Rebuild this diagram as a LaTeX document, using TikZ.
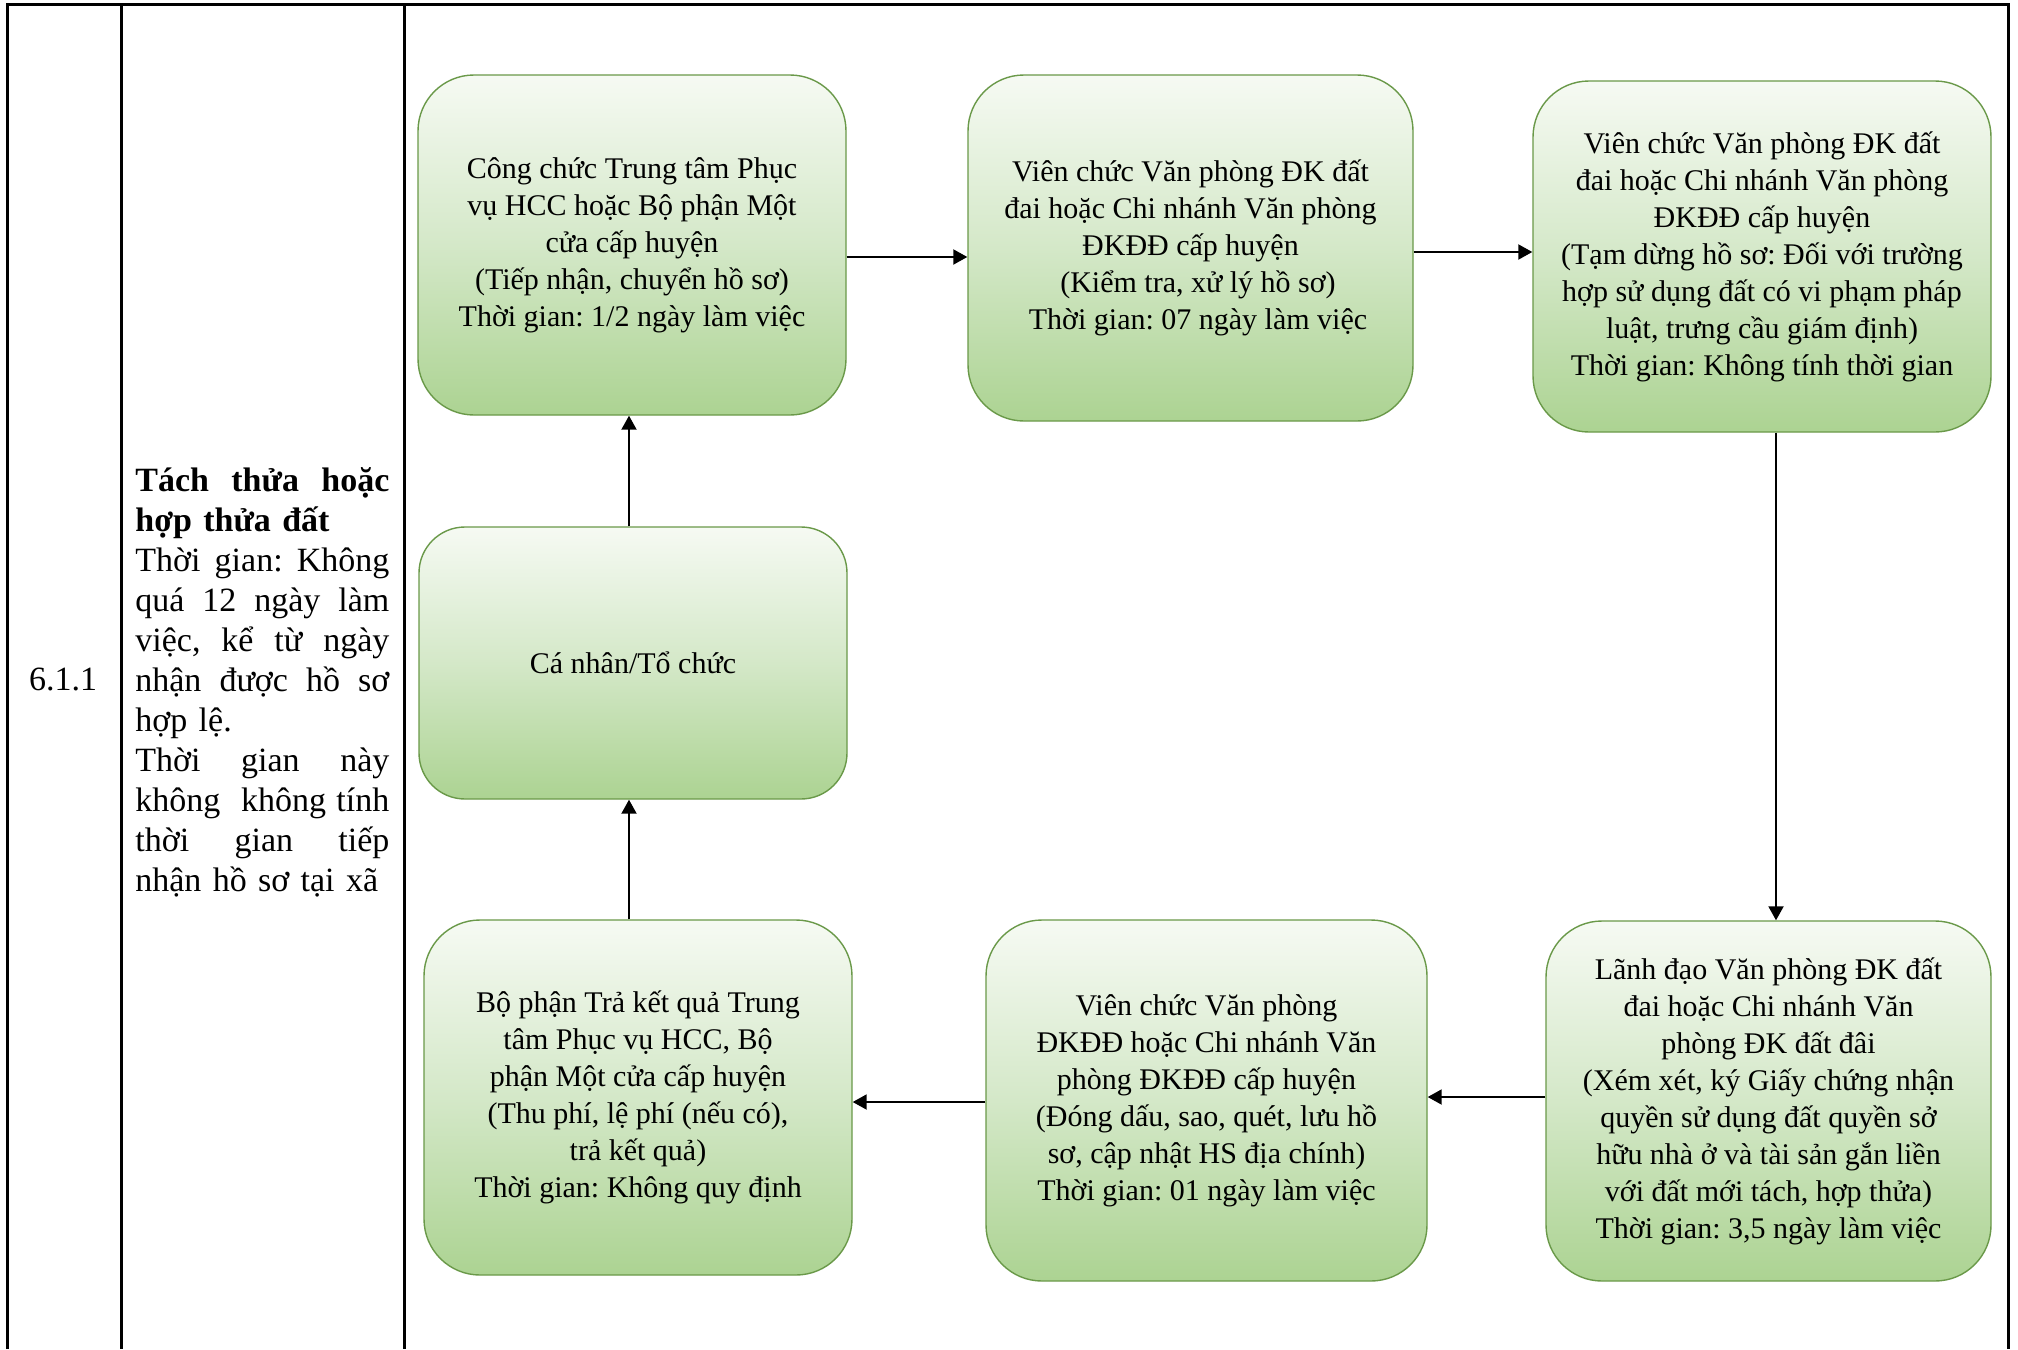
\documentclass[tikz,border=0pt]{standalone}
\usepackage{fontspec}
\setmainfont{Liberation Serif}
\usetikzlibrary{arrows.meta}
\definecolor{gtop}{RGB}{246,250,243}
\definecolor{gmid}{RGB}{212,232,200}
\definecolor{gbot}{RGB}{172,211,146}
\definecolor{gline}{RGB}{106,153,73}
\newcommand{\jl}[1]{\makebox[127pt][s]{\spaceskip=0.25em plus 1fil\relax\xspaceskip=0.25em plus 1fil\relax #1}}
\newcommand{\rl}[1]{\makebox[127pt][l]{#1}}
\frenchspacing
\begin{document}
\begin{tikzpicture}[x=0.5pt,y=-0.5pt,
  flowbox/.style={draw=gline, line width=0.7pt, rounded corners=28pt,
    top color=gtop, bottom color=gbot, middle color=gmid,
    align=center, font=\fontsize{15}{18.5}\selectfont\frenchspacing, inner sep=0pt},
  arr/.style={draw=black, line width=1pt, -{Triangle[length=7pt,width=7.5pt]}},
  tab/.style={line width=1.5pt, line join=miter}]
\useasboundingbox[fill=white] (0,0) rectangle (2018,1349);
% table
\draw[tab] (7,1349) -- (7,4) -- (2008,4) -- (2008,1349);
\draw[tab] (121,4) -- (121,1349);
\draw[tab] (404,4) -- (404,1349);
% left columns
\node[font=\fontsize{17}{20}\selectfont, anchor=base, inner sep=0pt] (num) at (63,690) {6.1.1};
\node[anchor=north west, inner sep=0pt, text width=127pt, align=left,
  font=\fontsize{17}{20}\selectfont] (desc) at (135,467)
 {\textbf{\jl{Tách thửa hoặc}}\\
  \textbf{\rl{hợp thửa đất}}\\
  \jl{Thời gian: Không}\\
  \jl{quá 12 ngày làm}\\
  \jl{việc, kể từ ngày}\\
  \jl{nhận được hồ sơ}\\
  \rl{hợp lệ.}\\
  \jl{Thời gian này}\\
  \jl{không\ \ không tính}\\
  \jl{thời gian tiếp}\\
  \rl{nhận hồ sơ tại xã}};
% boxes
\node[flowbox, minimum width=214pt, minimum height=170pt] (b1) at (632,245)
 {Công chức Trung tâm Phục\\vụ HCC hoặc Bộ phận Một\\cửa cấp huyện\\(Tiếp nhận, chuyển hồ sơ)\\Thời gian: 1/2 ngày làm việc};
\node[flowbox, minimum width=222.5pt, minimum height=173pt] (b2) at (1190.5,248)
 {Viên chức Văn phòng ĐK đất\\đai hoặc Chi nhánh Văn phòng\\ĐKĐĐ cấp huyện\hspace*{0.25em}\\\hspace*{0.5em}(Kiểm tra, xử lý hồ sơ)\\\hspace*{0.5em}Thời gian: 07 ngày làm việc};
\node[flowbox, minimum width=229pt, minimum height=175.5pt] (b3) at (1762,256.5)
 {Viên chức Văn phòng ĐK đất\\đai hoặc Chi nhánh Văn phòng\\ĐKĐĐ cấp huyện\\(Tạm dừng hồ sơ: Đối với trường\\hợp sử dụng đất có vi phạm pháp\\luật, trưng cầu giám định)\\Thời gian: Không tính thời gian};
\node[flowbox, rounded corners=23pt, minimum width=214pt, minimum height=136pt] (b4) at (633,663)
 {Cá nhân/Tổ chức};
\node[flowbox, minimum width=214pt, minimum height=177.5pt] (b5) at (638,1097.5)
 {Bộ phận Trả kết quả Trung\\tâm Phục vụ HCC, Bộ\\phận Một cửa cấp huyện\\(Thu phí, lệ phí (nếu có),\\trả kết quả)\\Thời gian: Không quy định};
\node[flowbox, minimum width=220.5pt, minimum height=180.5pt] (b6) at (1206.5,1100.5)
 {Viên chức Văn phòng\\ĐKĐĐ hoặc Chi nhánh Văn\\phòng ĐKĐĐ cấp huyện\\(Đóng dấu, sao, quét, lưu hồ\\sơ, cập nhật HS địa chính)\\Thời gian: 01 ngày làm việc};
\node[flowbox, minimum width=222.5pt, minimum height=180pt] (b7) at (1768.5,1101)
 {Lãnh đạo Văn phòng ĐK đất\\đai hoặc Chi nhánh Văn\\phòng ĐK đất đâi\\(Xém xét, ký Giấy chứng nhận\\quyền sử dụng đất quyền sở\\hữu nhà ở và tài sản gắn liền\\với đất mới tách, hợp thửa)\\Thời gian: 3,5 ngày làm việc};
% connectors
\draw[arr] (b1.east |- 0,257) -- (b2.west |- 0,257);
\draw[arr] (b2.east |- 0,252) -- (b3.west |- 0,252);
\draw[arr] (b3.south -| 1776,0) -- (b7.north -| 1776,0);
\draw[arr] (b7.west |- 0,1097) -- (b6.east |- 0,1097);
\draw[arr] (b6.west |- 0,1102) -- (b5.east |- 0,1102);
\draw[arr] (b5.north -| 629,0) -- (b4.south -| 629,0);
\draw[arr] (b4.north -| 629,0) -- (b1.south -| 629,0);
\end{tikzpicture}
\end{document}
